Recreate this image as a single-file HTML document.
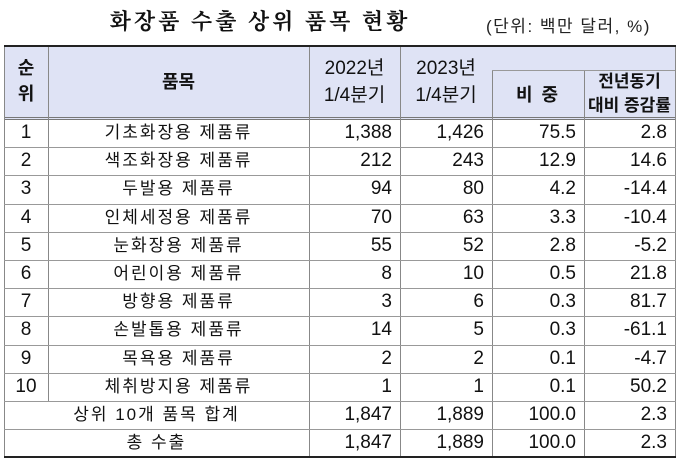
<!DOCTYPE html>
<html><head><meta charset="utf-8"><style>
body{margin:0;width:680px;height:463px;background:#fff;position:relative;overflow:hidden;font-family:"Liberation Sans","Noto Sans CJK KR",sans-serif;color:#111}
.a{position:absolute}
.t{font-size:16px;line-height:28px;height:28px;white-space:nowrap}
.n{font-size:19px}
.h{background:#dfe3f5}
.vl{position:absolute;width:1px;background:#888}
.hl{position:absolute;height:1px;background:#999}
</style></head><body>
<div class="a" style="left:100px;top:5px;width:320px;text-align:center;font-size:22px;font-weight:bold;letter-spacing:3px;font-family:'Noto Serif CJK SC','Noto Sans CJK KR',serif">화장품 수출 상위 품목 현황</div>
<div class="a" style="left:486px;top:12px;font-size:17px;letter-spacing:1.5px;color:#222">(단위: 백만 달러, %)</div>
<div class="a h" style="left:5px;top:47px;width:670px;height:72px"></div>
<div class="a" style="left:4px;top:45px;width:672px;height:2px;background:#222"></div>
<div class="a" style="left:4px;top:456px;width:672px;height:2px;background:#222"></div>
<div class="a" style="left:4px;top:117px;width:672px;height:1px;background:#777"></div>
<div class="a" style="left:4px;top:119px;width:672px;height:1px;background:#777"></div>
<div class="vl" style="left:4px;top:47px;height:409px"></div>
<div class="vl" style="left:675px;top:47px;height:409px"></div>
<div class="vl" style="left:48px;top:47px;height:354px"></div>
<div class="vl" style="left:309px;top:47px;height:409px"></div>
<div class="vl" style="left:400px;top:47px;height:409px"></div>
<div class="vl" style="left:492px;top:70px;height:386px"></div>
<div class="vl" style="left:584px;top:70px;height:386px"></div>
<div class="hl" style="left:492px;top:70px;width:183px"></div>
<div class="a" style="left:4px;top:55px;width:44px;text-align:center;font-size:18px;line-height:26px;font-weight:bold">순<br>위</div>
<div class="a" style="left:48px;top:68px;width:261px;text-align:center;font-size:18px;font-weight:bold">품목</div>
<div class="a" style="left:309px;top:55px;width:91px;text-align:center;font-size:19px;line-height:27px">2022년<br>1/4분기</div>
<div class="a" style="left:400px;top:55px;width:92px;text-align:center;font-size:19px;line-height:27px">2023년<br>1/4분기</div>
<div class="a" style="left:492px;top:81px;width:92px;text-align:center;font-size:18px;font-weight:bold;letter-spacing:2px">비 중</div>
<div class="a" style="left:584px;top:70px;width:91px;text-align:center;font-size:17px;line-height:24px;font-weight:bold">전년동기<br>대비 증감률</div>
<div id="rows"></div>
<script>
var d=[["1","기초화장용 제품류","1,388","1,426","75.5","2.8"],["2","색조화장용 제품류","212","243","12.9","14.6"],["3","두발용 제품류","94","80","4.2","-14.4"],["4","인체세정용 제품류","70","63","3.3","-10.4"],["5","눈화장용 제품류","55","52","2.8","-5.2"],["6","어린이용 제품류","8","10","0.5","21.8"],["7","방향용 제품류","3","6","0.3","81.7"],["8","손발톱용 제품류","14","5","0.3","-61.1"],["9","목욕용 제품류","2","2","0.1","-4.7"],["10","체취방지용 제품류","1","1","0.1","50.2"],["","상위 10개 품목 합계","1,847","1,889","100.0","2.3"],["","총 수출","1,847","1,889","100.0","2.3"]];
var h="";
for(var i=0;i<12;i++){var y=119+i*28.2;
if(i<11)h+='<div class="hl" style="left:4px;top:'+(y+28.2).toFixed(1)+'px;width:672px"></div>';
var tot=i>=10;
if(!tot)h+='<div class="a t n" style="left:4px;top:'+y+'px;width:44px;text-align:center">'+d[i][0]+'</div>';
h+='<div class="a t" style="left:'+(tot?4:48)+'px;top:'+y+'px;width:'+(tot?305:261)+'px;text-align:center;font-size:17px;letter-spacing:2px">'+d[i][1]+'</div>';
var xs=[[309,91],[400,92],[492,92],[584,91]];
for(var j=0;j<4;j++)h+='<div class="a t n" style="left:'+xs[j][0]+'px;top:'+y+'px;width:'+(xs[j][1]-8)+'px;text-align:right">'+d[i][j+2]+'</div>';}
document.getElementById("rows").innerHTML=h;
</script>
</body></html>
